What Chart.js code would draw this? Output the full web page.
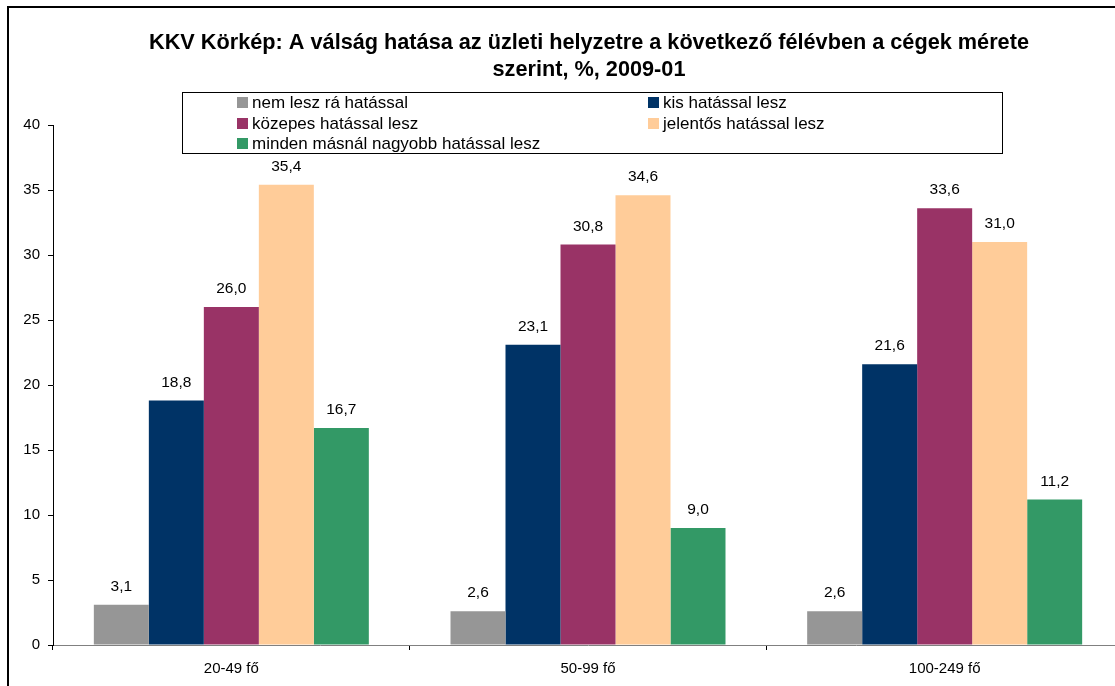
<!DOCTYPE html>
<html>
<head>
<meta charset="utf-8">
<script src="https://cdn.jsdelivr.net/npm/chart.js@4/dist/chart.umd.min.js"></script>
<style>
  html, body { margin: 0; padding: 0; background: #fff; overflow: hidden; }
  #wrap { width: 1125px; height: 686px; position: relative; }
</style>
</head>
<body>
<div id="wrap"><canvas id="kkvChart"></canvas></div>
<script>
// chart data
const categories = ['20-49 fő', '50-99 fő', '100-249 fő'];
const seriesNames = [
    'nem lesz rá hatással',
    'kis hatással lesz',
    'közepes hatással lesz',
    'jelentős hatással lesz',
    'minden másnál nagyobb hatással lesz'
];
const nemLesz = [3.1, 2.6, 2.6];
const kisHatas = [18.8, 23.1, 21.6];
const kozepes = [26.0, 30.8, 33.6];
const jelentos = [35.4, 34.6, 31.0];
const mindenMasnal = [16.7, 9.0, 11.2];
const yTicks = [0, 5, 10, 15, 20, 25, 30, 35, 40];

const titleLines = [
    'KKV Körkép: A válság hatása az üzleti helyzetre a következő félévben a cégek mérete',
    'szerint, %, 2009-01'
];

const colors = ['#969696', '#003366', '#993366', '#FFCC99', '#339966'];
const font = "'Liberation Sans', Arial, sans-serif";

// title, frame, legend box and value labels
const decorPlugin = {
    id: 'decor',
    afterDraw(chart) {
        const c = chart.ctx;
        c.save();
        // outer frame (left and top visible)
        c.strokeStyle = '#000';
        c.lineWidth = 2;
        c.beginPath();
        c.moveTo(8, 686);
        c.lineTo(8, 7);
        c.lineTo(1125, 7);
        c.stroke();

        // title
        c.fillStyle = '#000';
        c.font = 'bold 21.7px ' + font;
        c.textAlign = 'center';
        c.textBaseline = 'middle';
        c.fillText(titleLines[0], 589, 43);
        c.fillText(titleLines[1], 589, 70);

        // legend box
        c.lineWidth = 1;
        c.strokeStyle = '#000';
        c.strokeRect(182.5, 92.5, 820, 61);
        c.font = '17px ' + font;
        c.textAlign = 'left';
        const pos = [[237, 102], [648, 102], [237, 123], [648, 123], [237, 143]];
        chart.data.datasets.forEach((ds, i) => {
            const [x, y] = pos[i];
            c.fillStyle = ds.backgroundColor;
            c.fillRect(x, y - 5, 11, 11);
            c.fillStyle = '#000';
            c.fillText(ds.label, x + 15, y + 1);
        });

        // value labels
        c.font = '15.5px ' + font;
        c.textAlign = 'center';
        c.textBaseline = 'middle';
        c.fillStyle = '#000';
        chart.data.datasets.forEach((ds, i) => {
            chart.getDatasetMeta(i).data.forEach((bar, j) => {
                const txt = ds.data[j].toFixed(1).replace('.', ',');
                c.fillText(txt, bar.x, bar.y - 18);
            });
        });
        c.restore();
    }
};

const dataArrays = [nemLesz, kisHatas, kozepes, jelentos, mindenMasnal];

new Chart(document.getElementById('kkvChart'), {
    type: 'bar',
    data: {
        labels: categories,
        datasets: dataArrays.map((arr, i) => ({
            label: seriesNames[i],
            data: arr,
            backgroundColor: colors[i],
            borderWidth: 0,
            barPercentage: 1,
            categoryPercentage: 0.771
        }))
    },
    options: {
        responsive: true,
        maintainAspectRatio: false,
        animation: false,
        layout: { padding: { left: 10, top: 125, right: 2, bottom: 0 } },
        plugins: {
            legend: { display: false },
            title: { display: false },
            tooltip: { enabled: false }
        },
        scales: {
            x: {
                afterFit(scale) { scale.height = 41; },
                grid: {
                    display: true,
                    drawOnChartArea: false,
                    drawTicks: true,
                    tickLength: 5,
                    color: '#000'
                },
                border: { color: '#808080', width: 1 },
                ticks: { color: '#000', font: { family: font, size: 15 }, padding: 10 }
            },
            y: {
                min: 0,
                max: 40,
                afterFit(scale) { scale.width = 43; },
                afterBuildTicks(scale) { scale.ticks = yTicks.map(v => ({ value: v })); },
                grid: {
                    display: true,
                    drawOnChartArea: false,
                    tickLength: 5,
                    color: '#000'
                },
                border: { color: '#000', width: 1 },
                ticks: { color: '#000', font: { family: font, size: 15 }, padding: 8 }
            }
        }
    },
    plugins: [decorPlugin]
});
</script>
</body>
</html>
